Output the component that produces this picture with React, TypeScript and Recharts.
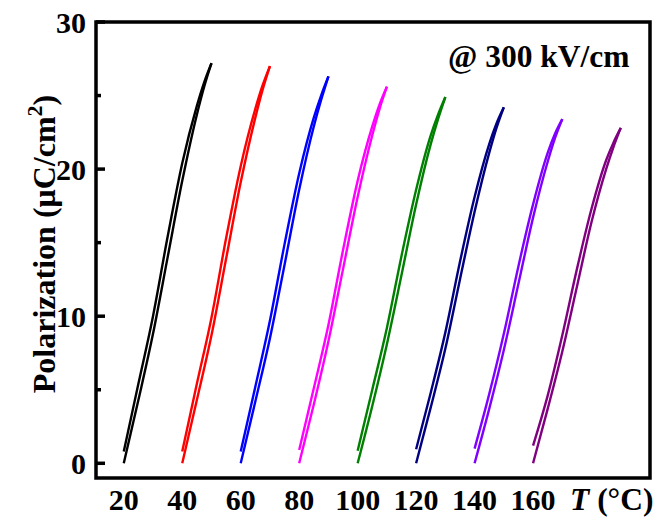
import React from 'react';
import { LineChart, Line, XAxis, YAxis, ReferenceArea } from 'recharts';

// temperature offsets along each loop branch (°C from start of loop)
const dT = [0, 5, 10, 15, 20, 25, 27.5, 30];
const starts = [20, 40, 60, 80, 100, 120, 140, 160];
const colors = ['#000000', '#ff0000', '#0000ff', '#ff00ff', '#008000', '#000080', '#8000ff', '#800080'];

// rising branch (lower) and returning branch (upper), µC/cm²
const blackUp = [0, 4.3, 8.8, 14.0, 19.2, 23.7, 25.6, 27.2];
const blackDown = [0.8, 5.4, 10.0, 15.4, 20.4, 24.3, 25.9, 27.2];
const redUp = [0, 4.3, 8.7, 13.9, 19.1, 23.5, 25.4, 27.0];
const redDown = [0.8, 5.4, 9.9, 15.3, 20.2, 24.1, 25.7, 27.0];
const blueUp = [0, 4.2, 8.5, 13.5, 18.6, 22.9, 24.7, 26.3];
const blueDown = [0.8, 5.2, 9.7, 14.9, 19.7, 23.5, 25.0, 26.3];
const magentaUp = [0, 4.0, 8.3, 13.2, 18.1, 22.3, 24.1, 25.6];
const magentaDown = [0.9, 5.1, 9.4, 14.5, 19.2, 22.9, 24.4, 25.6];
const greenUp = [0, 3.9, 8.1, 12.8, 17.6, 21.7, 23.4, 24.9];
const greenDown = [0.85, 5.0, 9.2, 14.1, 18.6, 22.3, 23.7, 24.9];
const navyUp = [0, 3.8, 7.8, 12.5, 17.1, 21.1, 22.8, 24.2];
const navyDown = [0.95, 4.8, 8.9, 13.7, 18.1, 21.7, 23.1, 24.2];
const violetUp = [0, 3.7, 7.7, 12.2, 16.7, 20.5, 22.1, 23.4];
const violetDown = [1.0, 4.7, 8.8, 13.4, 17.6, 21.1, 22.4, 23.4];
const purpleUp = [0, 3.7, 7.6, 12.0, 16.4, 20.0, 21.5, 22.8];
const purpleDown = [1.2, 4.6, 8.7, 13.2, 17.3, 20.6, 21.8, 22.8];

const ups = [blackUp, redUp, blueUp, magentaUp, greenUp, navyUp, violetUp, purpleUp];
const downs = [blackDown, redDown, blueDown, magentaDown, greenDown, navyDown, violetDown, purpleDown];

const xTicks = [20, 40, 60, 80, 100, 120, 140, 160];
const yTicks = [0, 5, 10, 15, 20, 25, 30];

const FONT = '"Liberation Serif", "Times New Roman", serif';

const branch = (start: number, vals: number[]) => vals.map((p, i) => ({ T: start + dT[i], P: p }));

const XTick = (props: any) => {
  const { x, y, payload } = props;
  return (
    <text x={x} y={y + 32} textAnchor="middle" fontFamily={FONT} fontWeight="bold" fontSize={30} fill="#000">
      {payload.value}
    </text>
  );
};

const YTick = (props: any) => {
  const { x, y, payload } = props;
  const major = payload.value % 10 === 0;
  return (
    <g>
      <line x1={x} x2={x + (major ? 9 : 5)} y1={y} y2={y} stroke="#000" strokeWidth={3.5} />
      {major && (
        <text x={x - 10} y={y} dy={10.5} textAnchor="end" fontFamily={FONT} fontWeight="bold" fontSize={30} fill="#000">
          {payload.value}
        </text>
      )}
    </g>
  );
};

export default function App() {
  return (
    <div style={{ position: 'absolute', left: 0, top: 0, width: 659, height: 527, background: '#fff' }}>
      <LineChart width={659} height={527} margin={{ top: 22, right: 9, bottom: 0, left: 0 }}>
        <XAxis
          dataKey="T"
          type="number"
          domain={[10.5, 200]}
          allowDataOverflow
          ticks={xTicks}
          interval={0}
          axisLine={false}
          tickLine={false}
          tickSize={0}
          tickMargin={0}
          height={49}
          tick={<XTick />}
        />
        <YAxis
          type="number"
          domain={[-1, 30]}
          allowDataOverflow
          ticks={yTicks}
          interval={0}
          axisLine={false}
          tickLine={false}
          tickSize={0}
          tickMargin={0}
          width={96}
          tick={<YTick />}
        />
        <ReferenceArea x1={10.5} x2={200} y1={-1} y2={30} fill="none" stroke="#000" strokeWidth={3.5} ifOverflow="visible" />
        {starts.map((s, i) => (
          <Line
            key={`up${s}`}
            data={branch(s, ups[i])}
            dataKey="P"
            type="monotone"
            stroke={colors[i]}
            strokeWidth={2.4}
            dot={false}
            isAnimationActive={false}
          />
        ))}
        {starts.map((s, i) => (
          <Line
            key={`down${s}`}
            data={branch(s, downs[i])}
            dataKey="P"
            type="monotone"
            stroke={colors[i]}
            strokeWidth={2.4}
            dot={false}
            isAnimationActive={false}
          />
        ))}
      </LineChart>
      <svg width={659} height={527} style={{ position: 'absolute', left: 0, top: 0, pointerEvents: 'none' }}>
        <text x={448} y={67} fontFamily={FONT} fontWeight="bold" fontSize={31.5} fill="#000">
          @ 300 kV/cm
        </text>
        <text x={570} y={510} fontFamily={FONT} fontWeight="bold" fontSize={31.5} fill="#000">
          <tspan fontStyle="italic">T</tspan> (°C)
        </text>
        <text
          transform="translate(55,244) rotate(-90)"
          textAnchor="middle"
          fontFamily={FONT}
          fontWeight="bold"
          fontSize={32}
          fill="#000"
        >
          Polarization (μC/cm<tspan dy={-13} fontSize={22}>2</tspan><tspan dy={13}>)</tspan>
        </text>
      </svg>
    </div>
  );
}
